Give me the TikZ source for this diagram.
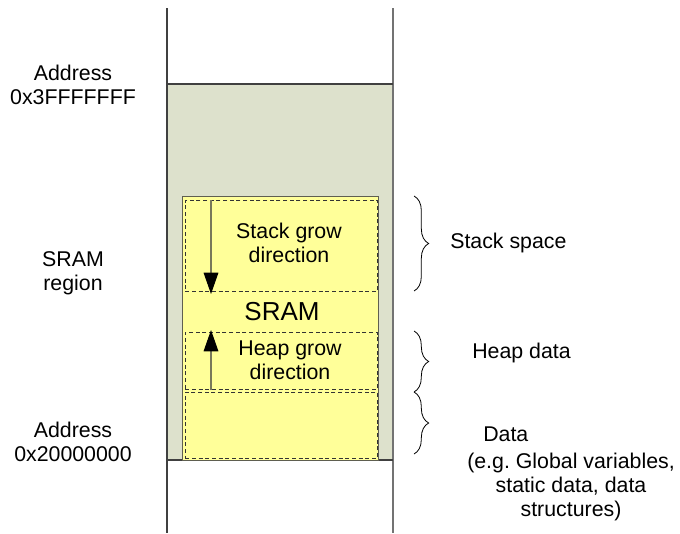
\documentclass[tikz,border=0pt]{standalone}
\usepackage{fontspec}
\setmainfont{Liberation Sans}
\usetikzlibrary{decorations.pathreplacing,arrows.meta}
\definecolor{regiongray}{RGB}{221,225,204}
\definecolor{sramyellow}{RGB}{255,255,153}
\definecolor{sramedge}{RGB}{95,95,80}
\definecolor{shaft}{RGB}{120,120,90}
\tikzset{
  lbl/.style={font=\fontsize{16}{18}\selectfont, align=center, inner sep=0pt},
  dbox/.style={draw=black!80, dashed, dash pattern=on 3pt off 2pt, line width=0.6pt},
  brc/.style={decorate, decoration={brace, amplitude=11pt}, line width=0.6pt},
  growarrow/.style={draw=shaft, line width=0.8pt, -{Triangle[length=16pt,width=11pt,fill=black,color=black]}},
}
\begin{document}
\begin{tikzpicture}[x=0.75pt,y=-0.75pt]
\useasboundingbox (0,0) rectangle (680,533);
% memory column
\fill[regiongray] (167,84) rectangle (393,460);
\draw[line width=1pt, black!75] (167,8) -- (167,533);
\draw[line width=1pt, black!55] (393,8) -- (393,533);
\draw[line width=1pt, black!75] (167,84) -- (393,84);
\draw[line width=1pt, black!75] (167,460) -- (393,460);
% SRAM block
\node[draw=sramedge, fill=sramyellow, line width=0.8pt, anchor=north west, minimum width=147pt, minimum height=198pt, inner sep=0pt] (sram) at (182,196) {};
\node[dbox, anchor=north west, minimum width=144pt, minimum height=68.25pt, inner sep=0pt] (stack) at (185,200) {};
\node[dbox, anchor=north west, minimum width=144pt, minimum height=42.75pt, inner sep=0pt] (heap) at (185,332) {};
\node[dbox, anchor=north west, minimum width=144pt, minimum height=49.5pt, inner sep=0pt] (data) at (185,392) {};
% texts in block
\node[lbl] (stacktxt) at (289,243) {Stack grow\\direction};
\node[font=\fontsize{19.5}{22}\selectfont, inner sep=0pt] (sramtxt) at (282,312) {SRAM};
\node[lbl] (heaptxt) at (290,360) {Heap grow\\direction};
% arrows
\coordinate (sa1) at (211,200);
\coordinate (sa2) at (211,294);
\coordinate (ha1) at (211,390);
\coordinate (ha2) at (211,330);
\draw[growarrow] (sa1) -- (sa2);
\draw[growarrow] (ha1) -- (ha2);
% left labels
\node[lbl] (addrtop) at (73,85) {Address\\0x3FFFFFFF};
\node[lbl] (sramreg) at (73,273) {SRAM\\region};
\node[lbl] (addrbot) at (73,442) {Address\\0x20000000};
% braces
\coordinate (b1t) at (414,196);
\coordinate (b1b) at (414,291);
\coordinate (b2t) at (414,331);
\coordinate (b2b) at (414,392);
\coordinate (b3t) at (414,392);
\coordinate (b3b) at (414,454);
\draw[brc] (b1t) -- (b1b);
\draw[brc] (b2t) -- (b2b);
\draw[brc] (b3t) -- (b3b);
% right labels
\node[lbl, anchor=west] (stackspace) at (450,243) {Stack space};
\node[lbl, anchor=west] (heapdata) at (472,353) {Heap data};
\node[lbl, anchor=west] (datatxt) at (483,434) {Data};
\node[lbl] (eg) at (571,487) {(e.g.\ Global variables,\\static data, data\\structures)};
\end{tikzpicture}
\end{document}
